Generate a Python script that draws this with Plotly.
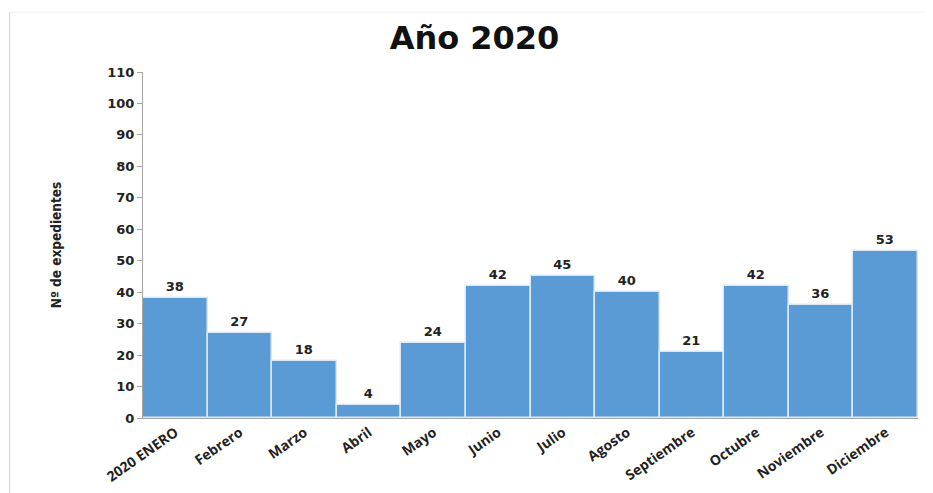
import plotly.graph_objects as go

meses = ["2020 ENERO", "Febrero", "Marzo", "Abril", "Mayo", "Junio", "Julio",
         "Agosto", "Septiembre", "Octubre", "Noviembre", "Diciembre"]
expedientes = [38, 27, 18, 4, 24, 42, 45, 40, 21, 42, 36, 53]
y_ticks = list(range(0, 111, 10))

fig = go.Figure(go.Bar(
    x=meses, y=expedientes,
    marker=dict(color="#5b9bd5", line=dict(color="#dbe9f7", width=1.5)),
    text=[f"<b>{v}</b>" for v in expedientes], textposition="outside",
    textfont=dict(family="DejaVu Sans", size=13, color="#222"),
    cliponaxis=False,
))

fig.update_layout(
    width=933, height=493,
    margin=dict(l=135, r=23, t=64, b=83),
    paper_bgcolor="white", plot_bgcolor="white",
    bargap=0.0,
    showlegend=False,
    title=dict(text="<b>Año 2020</b>", x=0.5, xanchor="center", xref="container",
               y=0.939, yanchor="middle",
               font=dict(family="DejaVu Sans", size=32, color="#111")),
    font=dict(family="DejaVu Sans", color="#222"),
)
fig.update_yaxes(
    automargin=False,
    range=[0, 110], tickvals=y_ticks, ticktext=[f"<b>{v}</b>" for v in y_ticks],
    showgrid=False, showline=True, linecolor="#a6a6a6", linewidth=1,
    ticks="outside", ticklen=5, tickcolor="#a6a6a6",
    tickfont=dict(family="DejaVu Sans", size=13, color="#222"),
    title=dict(text="<b>Nº de expedientes</b>", standoff=42,
               font=dict(family="DejaVu Sans Condensed", size=13.5, color="#222")),
    zeroline=False,
)
fig.update_xaxes(
    automargin=False,
    showline=True, linecolor="#a6a6a6", linewidth=1, showgrid=False,
    tickangle=-35, ticktext=[f"<b>{m}</b>" for m in meses], tickvals=meses,
    tickfont=dict(family="Open Sans", size=14, color="#222"),
)
fig.add_shape(type="line", xref="paper", yref="paper", x0=-0.172, x1=-0.172,
              y0=-0.25, y1=1.173, line=dict(color="#cccccc", width=1))
fig.add_shape(type="line", xref="paper", yref="paper", x0=-0.172, x1=1.03,
              y0=1.173, y1=1.173, line=dict(color="#f0f0f0", width=1))

fig.write_html("out.html")
